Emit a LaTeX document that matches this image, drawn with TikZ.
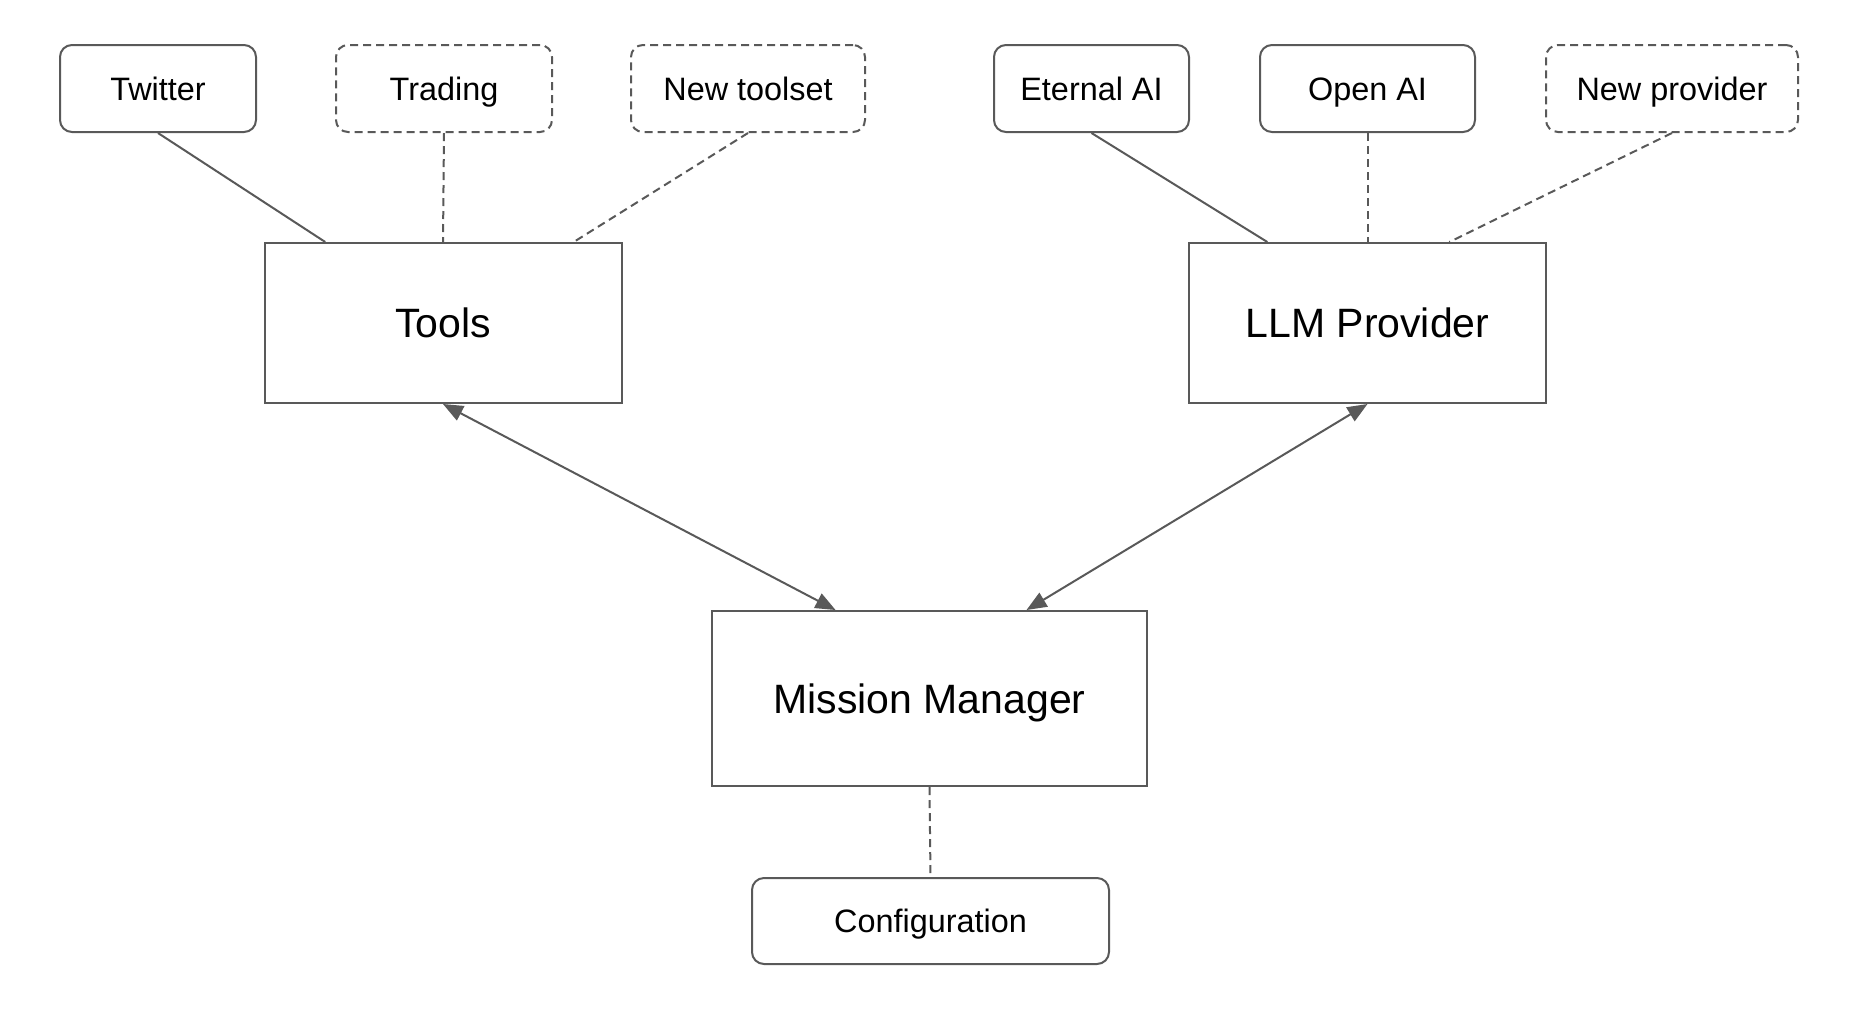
\documentclass[tikz,border=0pt]{standalone}
\usepackage{fontspec}
\setmainfont{Liberation Sans}
\usetikzlibrary{calc,arrows.meta}
\definecolor{ln}{HTML}{595959}
\tikzset{
  small/.style={draw=ln, line width=1pt, rounded corners=6pt, minimum height=43.5pt, inner sep=0pt, text height=11.6pt, text depth=0pt, font=\fontsize{16.2pt}{19pt}\selectfont},
  opt/.style={small, dash pattern=on 4pt off 2.5pt},
  big/.style={draw=ln, line width=1pt, inner sep=0pt, text height=14.7pt, text depth=0pt, font=\fontsize{20.5pt}{24pt}\selectfont},
  link/.style={draw=ln, line width=1pt},
  optlink/.style={link, dash pattern=on 4pt off 2.5pt},
  both/.style={link, {Triangle[length=10pt,width=8pt]}-{Triangle[length=10pt,width=8pt]}}
}
\begin{document}
\begin{tikzpicture}[x=0.5pt,y=-0.5pt]
\useasboundingbox (0,0) rectangle (1860,1014);
\node[small, minimum width=98pt] (tw) at (158,88.5) {Twitter};
\node[opt, minimum width=108pt] (tr) at (444,88.5) {Trading};
\node[opt, minimum width=117pt] (nt) at (748,88.5) {New toolset};
\node[small, minimum width=97.5pt] (et) at (1091.5,88.5) {Eternal AI};
\node[small, minimum width=107.5pt] (op) at (1367.5,88.5) {Open AI};
\node[opt, minimum width=126pt] (np) at (1672,88.5) {New provider};
\node[big, minimum width=178.5pt, minimum height=80pt] (tools) at (443,323) {Tools};
\node[big, minimum width=178.5pt, minimum height=80pt] (llm) at (1367.5,323) {LLM Provider};
\node[big, minimum width=217.5pt, minimum height=87.5pt] (mm) at (929.5,698.5) {Mission Manager};
\node[small, minimum width=178.5pt, minimum height=43pt] (cfg) at (930.5,921) {Configuration};
\draw[link] (tw.south) -- ($(tools.north west)!0.172!(tools.north east)$);
\draw[optlink] (tr.south) -- (tools.north);
\draw[optlink] (nt.south) -- ($(tools.north west)!0.864!(tools.north east)$);
\draw[link] (et.south) -- ($(llm.north west)!0.221!(llm.north east)$);
\draw[optlink] (op.south) -- (llm.north);
\draw[optlink] (np.south) -- ($(llm.north west)!0.728!(llm.north east)$);
\draw[both] (tools.south) -- ($(mm.north west)!0.285!(mm.north east)$);
\draw[both] (llm.south) -- ($(mm.north west)!0.722!(mm.north east)$);
\draw[optlink] (mm.south) -- (cfg.north);
\end{tikzpicture}
\end{document}
